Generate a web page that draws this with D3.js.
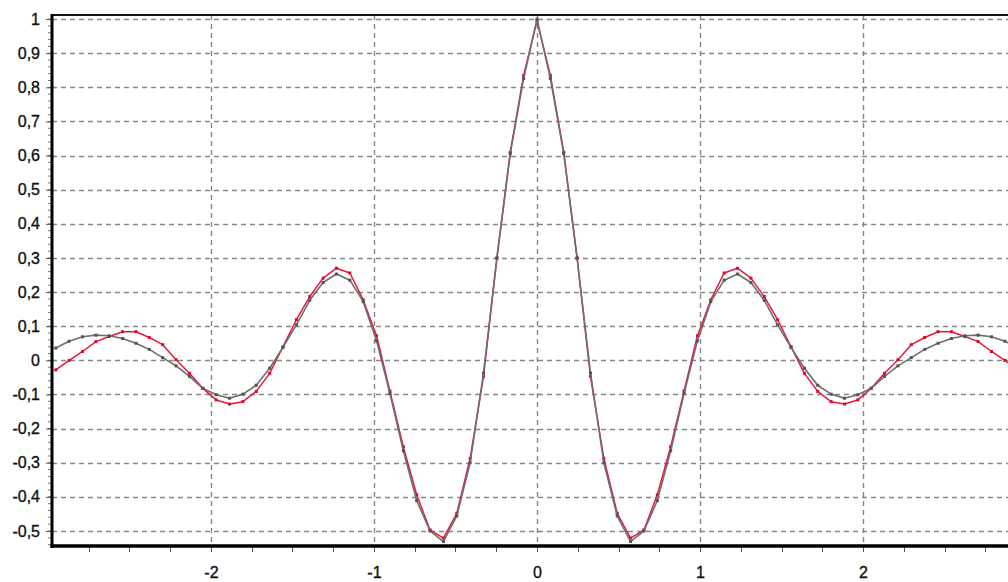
<!DOCTYPE html>
<html>
<head>
<meta charset="utf-8">
<script src="https://cdn.jsdelivr.net/npm/d3@7/dist/d3.min.js"></script>
<style>
  html, body { margin: 0; padding: 0; background: #fff; }
  svg { display: block; }
  .axis text { font-family: "Liberation Sans", Arial, sans-serif; font-size: 16px; fill: #111; stroke: #111; stroke-width: 0.35px; }
</style>
</head>
<body>
<svg width="1008" height="582"></svg>
<script>
// sample positions (same for both curves)
const xs = [-2.952, -2.870, -2.788, -2.706, -2.624, -2.542, -2.460, -2.378, -2.296, -2.214,
  -2.132, -2.050, -1.968, -1.886, -1.804, -1.722, -1.640, -1.558, -1.476, -1.394,
  -1.312, -1.230, -1.148, -1.066, -0.984, -0.902, -0.820, -0.738, -0.656, -0.574,
  -0.492, -0.410, -0.328, -0.246, -0.164, -0.082, 0,
  0.082, 0.164, 0.246, 0.328, 0.410, 0.492, 0.574, 0.656, 0.738, 0.820,
  0.902, 0.984, 1.066, 1.148, 1.230, 1.312, 1.394, 1.476, 1.558, 1.640,
  1.722, 1.804, 1.886, 1.968, 2.050, 2.132, 2.214, 2.296, 2.378, 2.460,
  2.542, 2.624, 2.706, 2.788, 2.870, 2.952];

// smooth gray curve
const grayVals = [0.036, 0.056, 0.069, 0.074, 0.072, 0.064, 0.050, 0.032, 0.008, -0.016,
  -0.047, -0.082, -0.101, -0.111, -0.099, -0.073, -0.023, 0.038, 0.104, 0.176,
  0.228, 0.253, 0.235, 0.172, 0.057, -0.097, -0.265, -0.411, -0.500, -0.531,
  -0.456, -0.300, -0.037, 0.300, 0.606, 0.826, 1.000,
  0.826, 0.606, 0.300, -0.037, -0.300, -0.456, -0.531, -0.500, -0.411, -0.265,
  -0.097, 0.057, 0.172, 0.235, 0.253, 0.228, 0.176, 0.104, 0.038, -0.023,
  -0.073, -0.099, -0.111, -0.101, -0.082, -0.047, -0.016, 0.008, 0.032, 0.050,
  0.064, 0.072, 0.074, 0.069, 0.056, 0.036];

// red approximation
const redVals = [-0.028, 0.000, 0.026, 0.055, 0.070, 0.084, 0.084, 0.067, 0.046, 0.002,
  -0.038, -0.082, -0.116, -0.128, -0.121, -0.091, -0.038, 0.040, 0.119, 0.187,
  0.241, 0.270, 0.256, 0.177, 0.072, -0.090, -0.253, -0.394, -0.497, -0.521,
  -0.448, -0.287, -0.047, 0.300, 0.610, 0.835, 0.995,
  0.835, 0.610, 0.300, -0.047, -0.287, -0.448, -0.521, -0.497, -0.394, -0.253,
  -0.090, 0.072, 0.177, 0.256, 0.270, 0.241, 0.187, 0.119, 0.040, -0.038,
  -0.091, -0.121, -0.128, -0.116, -0.082, -0.038, 0.002, 0.046, 0.067, 0.084,
  0.084, 0.070, 0.055, 0.026, 0.000, -0.028];

const xTicks = [-2, -1, 0, 1, 2];
const xTickLabels = ["-2", "-1", "0", "1", "2"];
const yTicks = [-0.5, -0.4, -0.3, -0.2, -0.1, 0, 0.1, 0.2, 0.3, 0.4, 0.5, 0.6, 0.7, 0.8, 0.9, 1];
const yTickLabels = ["-0,5", "-0,4", "-0,3", "-0,2", "-0,1", "0", "0,1", "0,2", "0,3", "0,4",
  "0,5", "0,6", "0,7", "0,8", "0,9", "1"];

const svg = d3.select("svg");
const pLeft = 52, pTop = 15, pBottom = 546, pRight = 1022;

const x = d3.scaleLinear().domain([-2.975, 2.975]).range([pLeft, pRight]);
const y = d3.scaleLinear().domain([-0.544, 1.012]).range([pBottom, pTop]);

svg.append("rect").attr("width", 1008).attr("height", 582).attr("fill", "#fff");

svg.append("clipPath").attr("id", "plot")
  .append("rect").attr("x", pLeft).attr("y", pTop).attr("width", pRight - pLeft).attr("height", pBottom - pTop);

// grid
const grid = svg.append("g").attr("clip-path", "url(#plot)")
  .attr("stroke", "#868686").attr("stroke-width", 1.4).attr("stroke-dasharray", "5,4");
grid.selectAll(".hg").data(yTicks).enter().append("line")
  .attr("x1", pLeft).attr("x2", pRight)
  .attr("y1", d => Math.round(y(d)) + 0.5).attr("y2", d => Math.round(y(d)) + 0.5);
grid.selectAll(".vg").data(xTicks).enter().append("line")
  .attr("y1", pTop).attr("y2", pBottom)
  .attr("x1", d => Math.round(x(d)) + 0.5).attr("x2", d => Math.round(x(d)) + 0.5);

// series
const pts = vals => xs.map((v, i) => [v, vals[i]]);
const line = d3.line().x(d => x(d[0])).y(d => y(d[1]));
const plot = svg.append("g").attr("clip-path", "url(#plot)");

function drawSeries(vals, color, width, markColor) {
  plot.append("path").datum(pts(vals))
    .attr("fill", "none").attr("stroke", color).attr("stroke-width", width)
    .attr("stroke-linejoin", "round").attr("d", line);
  plot.append("g").selectAll("rect").data(pts(vals)).enter().append("rect")
    .attr("x", d => x(d[0]) - 1.5).attr("y", d => y(d[1]) - 1.5)
    .attr("width", 3).attr("height", 3).attr("fill", markColor);
}
drawSeries(redVals, "#e8193c", 1.5, "#d0102f");
drawSeries(grayVals, "#6e6e6e", 1.6, "#555");

// minor ticks
svg.append("g").selectAll("line").data(d3.range(-0.54, 1.011, 0.02)).enter().append("line")
  .attr("x1", pLeft - 4).attr("x2", pLeft)
  .attr("y1", d => y(d)).attr("y2", d => y(d))
  .attr("stroke", "#777").attr("stroke-width", 1);
svg.append("g").selectAll("line").data(d3.range(-2.75, 2.9, 0.25)).enter().append("line")
  .attr("y1", pBottom).attr("y2", pBottom + 6)
  .attr("x1", d => Math.round(x(d)) + 0.5).attr("x2", d => Math.round(x(d)) + 0.5)
  .attr("stroke", "#555").attr("stroke-width", 1);

// axes
const yAxis = d3.axisLeft(y).tickValues(yTicks).tickFormat((d, i) => yTickLabels[i])
  .tickSize(6).tickSizeOuter(0).tickPadding(6);
const gy = svg.append("g").attr("class", "axis").attr("transform", `translate(${pLeft},0)`).call(yAxis);
gy.select(".domain").remove();
gy.selectAll(".tick line").attr("stroke", "#555");

const xAxis = d3.axisBottom(x).tickValues(xTicks).tickFormat((d, i) => xTickLabels[i])
  .tickSize(0).tickSizeOuter(0).tickPadding(21);
const gx = svg.append("g").attr("class", "axis").attr("transform", `translate(0,${pBottom})`).call(xAxis);
gx.select(".domain").remove();

// frame
svg.append("line").attr("x1", pLeft).attr("x2", 1008).attr("y1", pTop).attr("y2", pTop)
  .attr("stroke", "#111").attr("stroke-width", 2);
svg.append("line").attr("x1", pLeft).attr("x2", pLeft).attr("y1", pTop - 1).attr("y2", pBottom + 2)
  .attr("stroke", "#000").attr("stroke-width", 3);
svg.append("line").attr("x1", pLeft - 1.5).attr("x2", 1008).attr("y1", pBottom).attr("y2", pBottom)
  .attr("stroke", "#000").attr("stroke-width", 3.5);
</script>
</body>
</html>
